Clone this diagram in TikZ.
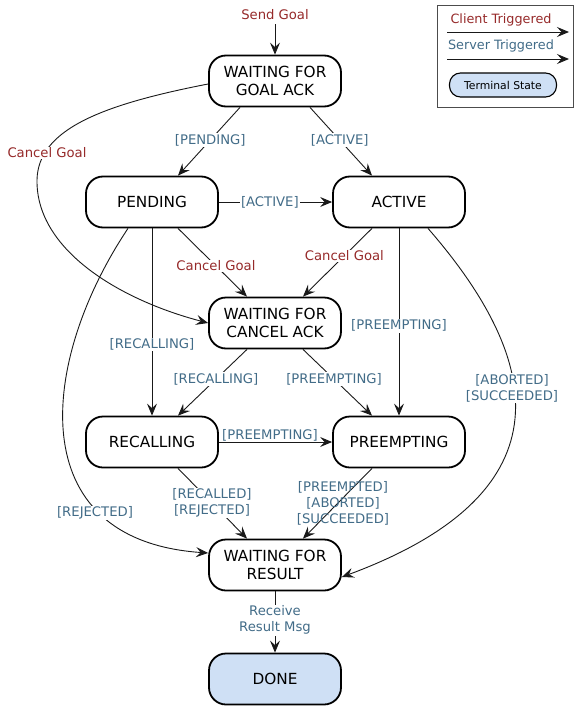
\documentclass[tikz,border=0pt]{standalone}
\usepackage{fontspec}
\setmainfont{DejaVu Sans}
\usetikzlibrary{arrows.meta,calc}
\definecolor{cred}{RGB}{150,42,42}
\definecolor{cblue}{RGB}{66,108,136}
\definecolor{termfill}{RGB}{207,224,245}
\begin{document}
\begin{tikzpicture}[x=1pt,y=-1pt,
 state/.style={draw=black, line width=1.8pt, rounded corners=17pt, minimum width=132pt, minimum height=51pt, align=center, font=\fontsize{15.3}{18.5}\selectfont, inner sep=0pt},
 term/.style={state, fill=termfill},
 tr/.style={draw=black!90, line width=0.9pt, -{Stealth[length=12pt,width=10pt,inset=4.5pt]}},
 lbl/.style={font=\fontsize{13.2}{16}\selectfont, align=center, fill=white, inner sep=1pt},
 clab/.style={lbl, text=cred},
 slab/.style={lbl, text=cblue},
]
\useasboundingbox (0,0) rectangle (580,712);

% states
\node[state] (gack) at (275,81) {WAITING FOR\\GOAL ACK};
\node[state] (pend) at (152,202) {PENDING};
\node[state] (act)  at (399,202) {ACTIVE};
\node[state] (cack) at (275,323) {WAITING FOR\\CANCEL ACK};
\node[state] (rec)  at (152,442) {RECALLING};
\node[state] (pre)  at (399,442) {PREEMPTING};
\node[state] (wr)   at (275,565) {WAITING FOR\\RESULT};
\node[term]  (done) at (275,679) {DONE};

% send goal
\node[clab] (sg) at (275,15) {Send Goal};
\coordinate (sgs) at (275,24);
\draw[tr] (sgs) -- (gack.north);

% transitions
\draw[tr] ([xshift=-35pt]gack.south) -- ([xshift=26pt]pend.north) node[slab, pos=0.48] (l1) {[PENDING]};
\draw[tr] ([xshift=35pt]gack.south) -- ([xshift=-27pt]act.north) node[slab, pos=0.48] (l2) {[ACTIVE]};
\draw[tr] (pend.east) -- (act.west) node[slab, pos=0.45] (l3) {[ACTIVE]};

\draw[tr] ([yshift=-3pt]gack.west) .. controls (100,105) and (38,130) .. (37,180)
  .. controls (36,250) and (120,300) .. (cack.west);
\node[clab] (l4) at (47,153) {Cancel Goal};

\draw[tr] ([xshift=26pt]pend.south) -- ([xshift=-28pt]cack.north) node[clab, pos=0.55] (l5) {Cancel Goal};
\draw[tr] ([xshift=-27pt]act.south) -- ([xshift=28pt]cack.north) node[clab, pos=0.4] (l6) {Cancel Goal};

\draw[tr] (pend.south) -- (rec.north) node[slab, pos=0.62] (l7) {[RECALLING]};
\draw[tr] ([xshift=-28pt]cack.south) -- ([xshift=26pt]rec.north) node[slab, pos=0.45] (l8) {[RECALLING]};
\draw[tr] ([xshift=28pt]cack.south) -- ([xshift=-27pt]pre.north) node[slab, pos=0.45] (l9) {[PREEMPTING]};
\draw[tr] (act.south) -- (pre.north) node[slab, pos=0.52] (l10) {[PREEMPTING]};
\draw[tr] (rec.east) -- (pre.west);
\node[slab, fill=none] (l11) at (270,435) {[PREEMPTING]};

\draw[tr] ([xshift=-24pt]pend.south) .. controls (40,360) and (20,540) .. ([yshift=12pt]wr.west);
\node[slab] (l12) at (95,513) {[REJECTED]};

\draw[tr] ([xshift=26pt]rec.south) -- ([xshift=-28pt]wr.north);
\node[slab] (l13) at (212,503) {{[RECALLED]}\\{[REJECTED]}};
\draw[tr] ([xshift=-27pt]pre.south) -- ([xshift=28pt]wr.north);
\node[slab, fill=none] (l14) at (343,503) {{[PREEMPTED]}\\{[ABORTED]}\\{[SUCCEEDED]}};

\draw[tr] ([xshift=29pt]act.south) .. controls (560,380) and (550,500) .. ([yshift=-12pt]wr.east);
\node[slab] (l15) at (512,388) {{[ABORTED]}\\{[SUCCEEDED]}};

\draw[tr] (wr.south) -- (done.north) node[slab, pos=0.47] (l16) {Receive\\Result Msg};

% legend
\node[draw=black!70, line width=0.8pt, minimum width=136pt, minimum height=102pt, inner sep=0pt] (leg) at (505,56) {};
\node[font=\fontsize{12.8}{14}\selectfont, text=cred] (lc) at (501,20) {Client Triggered};
\coordinate (lca) at (447,32);
\coordinate (lcb) at (569,32);
\draw[tr] (lca) -- (lcb);
\node[font=\fontsize{12.8}{14}\selectfont, text=cblue] (ls) at (501,46) {Server Triggered};
\coordinate (lsa) at (447,59);
\coordinate (lsb) at (569,59);
\draw[tr] (lsa) -- (lsb);
\node[draw=black, line width=1.1pt, fill=termfill, rounded corners=11pt, minimum width=107pt, minimum height=24pt, inner sep=0pt, font=\fontsize{10.8}{12}\selectfont] (lt) at (503,85) {Terminal State};
\end{tikzpicture}
\end{document}
